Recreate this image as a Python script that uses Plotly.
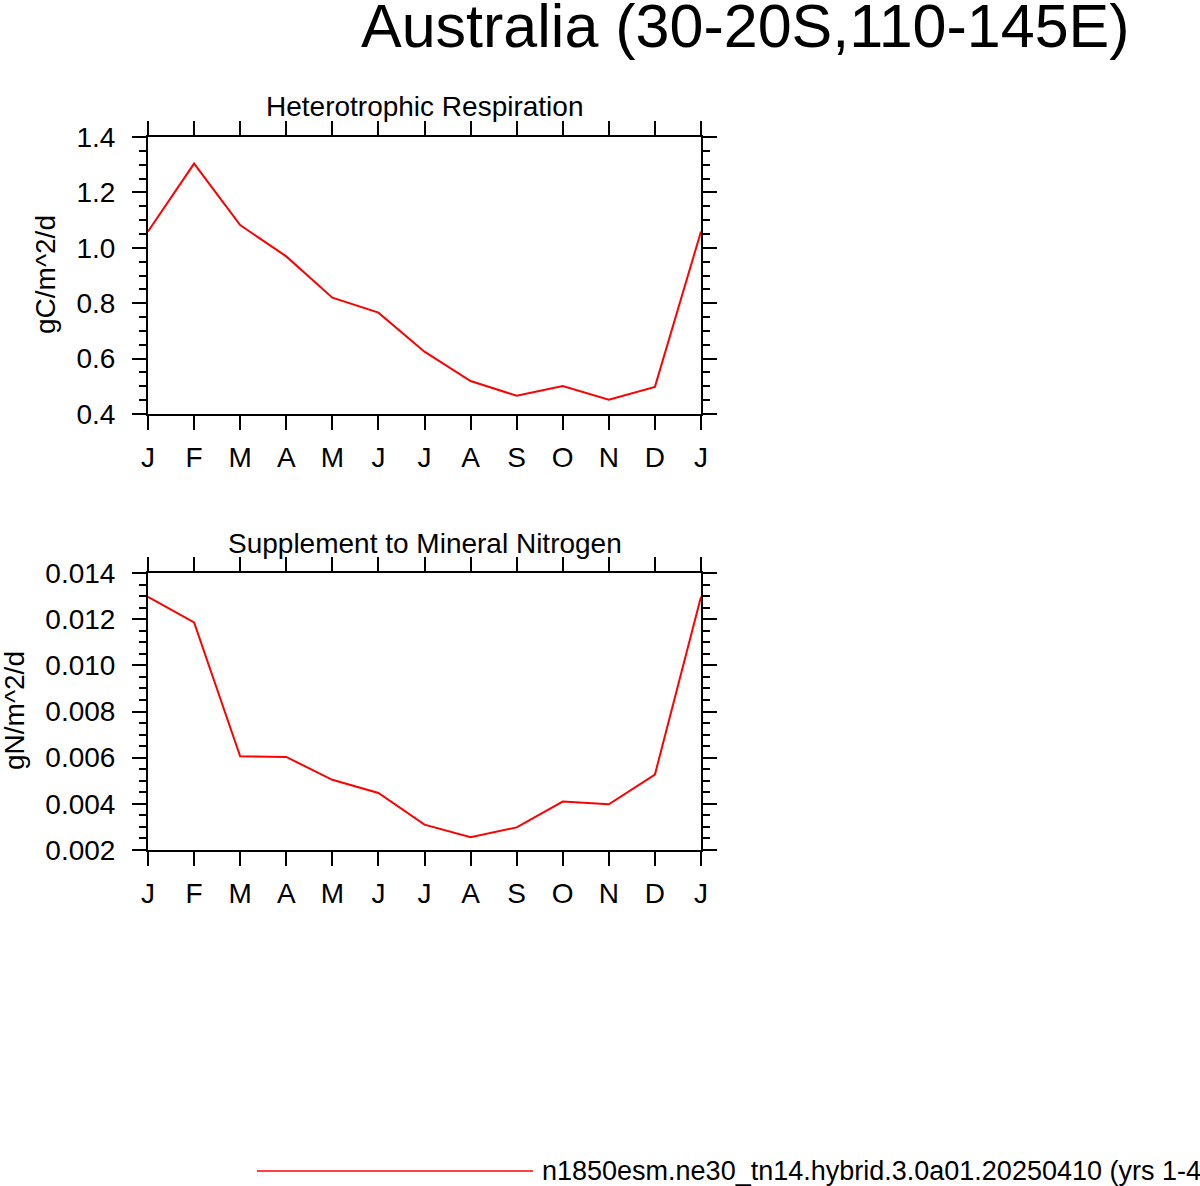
import plotly.graph_objects as go
from plotly.subplots import make_subplots

# monthly climatology, Jan repeated at the end
months = ["J", "F", "M", "A", "M", "J", "J", "A", "S", "O", "N", "D", "J"]
month_idx = list(range(13))

hr_vals = [1.059, 1.304, 1.082, 0.969, 0.820, 0.766, 0.625, 0.519,
           0.466, 0.501, 0.452, 0.498, 1.059]
nsup_vals = [0.01297, 0.01186, 0.00606, 0.00603, 0.00504, 0.00447, 0.00310,
             0.00255, 0.00298, 0.00410, 0.00398, 0.00527, 0.01297]

case_name = "n1850esm.ne30_tn14.hybrid.3.0a01.20250410 (yrs 1-40)"
main_title = "Australia (30-20S,110-145E)"
panel_titles = ["Heterotrophic Respiration", "Supplement to Mineral Nitrogen"]
units = ["gC/m^2/d", "gN/m^2/d"]

W, H = 1200, 1186
FONT = "Liberation Sans, Arial, Helvetica, sans-serif"

# page pixel -> paper fraction
def px_x(p):
    return p / W

def px_y(p):
    return 1 - p / H

fig = make_subplots(rows=2, cols=1)

fig.add_trace(go.Scatter(x=month_idx, y=hr_vals, mode="lines", name=case_name,
                         line=dict(color="red", width=2)), row=1, col=1)
fig.add_trace(go.Scatter(x=month_idx, y=nsup_vals, mode="lines", name=case_name,
                         line=dict(color="red", width=2)), row=2, col=1)

xaxis_style = dict(range=[0, 12], tickvals=month_idx, ticktext=months,
                   showgrid=False, zeroline=False, showline=True, linecolor="black",
                   linewidth=2, mirror="allticks", ticks="outside", ticklen=14,
                   tickwidth=2, tickcolor="black", ticklabelstandoff=3,
                   automargin=False,
                   tickfont=dict(family=FONT, size=28, color="black"))
yaxis_style = dict(showgrid=False, zeroline=False, showline=True, linecolor="black",
                   linewidth=2, mirror="allticks", ticks="outside", ticklen=14,
                   tickwidth=2, tickcolor="black", ticklabelstandoff=11,
                   automargin=False,
                   tickfont=dict(family=FONT, size=28, color="black"))

fig.update_xaxes(**xaxis_style)
fig.update_yaxes(**yaxis_style)

fig.update_layout(
    xaxis=dict(domain=[px_x(148), px_x(701)]),
    xaxis2=dict(domain=[px_x(148), px_x(701)]),
    yaxis=dict(domain=[px_y(414), px_y(137)], range=[0.4, 1.4], dtick=0.2,
               tick0=0.4, tickformat=".1f",
               minor=dict(dtick=0.05, ticks="outside", ticklen=7, tickwidth=2,
                          tickcolor="black", showgrid=False)),
    yaxis2=dict(domain=[px_y(850), px_y(573)], range=[0.002, 0.014], dtick=0.002,
                tick0=0.002, tickformat=".3f",
                minor=dict(dtick=0.0005, ticks="outside", ticklen=7, tickwidth=2,
                           tickcolor="black", showgrid=False)),
)

annos = [
    dict(x=px_x(745), y=px_y(26), text=main_title, font=dict(size=61)),
    dict(x=px_x(425), y=px_y(107), text=panel_titles[0], font=dict(size=28)),
    dict(x=px_x(425), y=px_y(543), text=panel_titles[1], font=dict(size=28)),
    dict(x=px_x(45), y=px_y(275), text=units[0], textangle=-90, font=dict(size=28)),
    dict(x=px_x(14), y=px_y(711), text=units[1], textangle=-90, font=dict(size=28)),
    dict(x=px_x(540), y=px_y(1171), text=case_name, xanchor="left",
         font=dict(size=27)),
]
for a in annos:
    a.setdefault("xanchor", "center")
    a["yanchor"] = "middle"
    a["xref"] = "paper"
    a["yref"] = "paper"
    a["showarrow"] = False
    a["font"]["family"] = FONT
    a["font"]["color"] = "black"
    fig.add_annotation(**a)

# legend sample line
fig.add_shape(type="line", xref="paper", yref="paper",
              x0=px_x(257), x1=px_x(533), y0=px_y(1171), y1=px_y(1171),
              line=dict(color="red", width=1.5))

fig.update_layout(width=W, height=H, margin=dict(l=0, r=0, t=0, b=0, pad=0),
                  paper_bgcolor="white", plot_bgcolor="white", showlegend=False,
                  font=dict(family=FONT, color="black"))

# page body has a default 8px margin; drop it so the figure sits at 0,0
fig.write_html("out.html", config={"displayModeBar": False},
               post_script="document.body.style.margin='0';")
